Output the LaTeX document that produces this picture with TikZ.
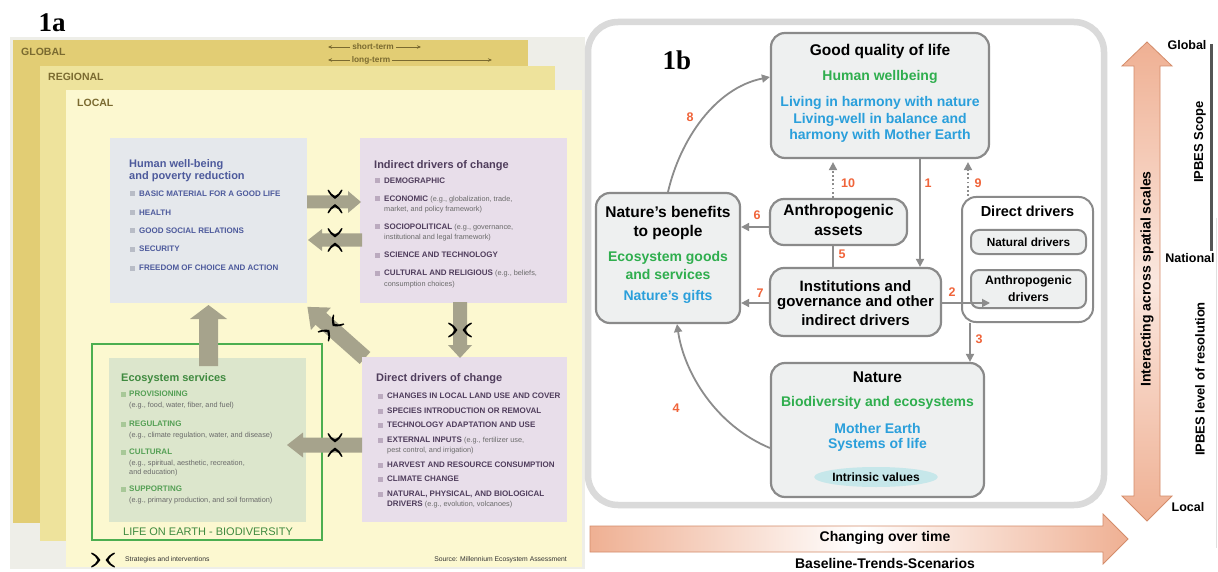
\documentclass[tikz,border=0pt]{standalone}
\usepackage{fontspec}
\setmainfont{Liberation Sans}
\newfontfamily\labfont{Liberation Serif}
\usetikzlibrary{arrows.meta,shapes.geometric}
\definecolor{bggray}{HTML}{EEEEE8}
\definecolor{globc}{HTML}{E2CD74}
\definecolor{regc}{HTML}{EEE39C}
\definecolor{locc}{HTML}{FCF8D0}
\definecolor{hwfill}{HTML}{E5E8EC}
\definecolor{lavfill}{HTML}{E8DEEA}
\definecolor{ecofill}{HTML}{DCE6CC}
\definecolor{greenframe}{HTML}{4CAE50}
\definecolor{fatc}{HTML}{A6A38C}
\definecolor{hwtext}{HTML}{4D5A9C}
\definecolor{purtext}{HTML}{4F3D5C}
\definecolor{ecotext}{HTML}{3F8A3F}
\definecolor{ecoitem}{HTML}{55A055}
\definecolor{subgray}{HTML}{6A6A6A}
\definecolor{scaletext}{HTML}{7A6A30}
\definecolor{bulhw}{HTML}{B8BCC6}
\definecolor{bulpur}{HTML}{BBAABF}
\definecolor{buleco}{HTML}{A8C898}
\definecolor{framegray}{HTML}{DADADA}
\definecolor{boxedge}{HTML}{8A8A8A}
\definecolor{boxfill}{HTML}{EEF0F0}
\definecolor{tgreen}{HTML}{2FAE4E}
\definecolor{tblue}{HTML}{2A9FDB}
\definecolor{numc}{HTML}{F0643A}
\definecolor{arrc}{HTML}{8C8C8C}
\definecolor{salmon}{HTML}{EFB093}
\definecolor{salmonedge}{HTML}{D48C6A}
\definecolor{ellc}{HTML}{C6E7EA}
\definecolor{bardark}{HTML}{555555}
\newcommand\fsz[1]{\fontsize{#1}{#1}\selectfont}
\newcommand\fatarrow[7]{\begin{scope}[shift={(#1,#2)},rotate=#3]
\fill[fatc] (0,-#5) -- ({#4-#7},-#5) -- ({#4-#7},-#6) -- (#4,0) -- ({#4-#7},#6) -- ({#4-#7},#5) -- (0,#5) -- cycle;
\end{scope}}
\newcommand\pinch[3]{\begin{scope}[shift={(#1,#2)},rotate=#3]
\fill[black] (-11.5,-7.5) .. controls (-8,-6.5) and (-5,-3.5) .. (-2.6,0) .. controls (-5,3.5) and (-8,6.5) .. (-11.5,7.5)
 -- (-11.8,6.3) .. controls (-8.8,5) and (-6.8,2.5) .. (-5.4,0) .. controls (-6.8,-2.5) and (-8.8,-5) .. (-11.8,-6.3) -- cycle;
\fill[black] (11.5,-7.5) .. controls (8,-6.5) and (5,-3.5) .. (2.6,0) .. controls (5,3.5) and (8,6.5) .. (11.5,7.5)
 -- (11.8,6.3) .. controls (8.8,5) and (6.8,2.5) .. (5.4,0) .. controls (6.8,-2.5) and (8.8,-5) .. (11.8,-6.3) -- cycle;
\end{scope}}
\newcommand\bul[3]{\fill[#3] ({#1-2.5},{#2-2.5}) rectangle ({#1+2.5},{#2+2.5});}
\tikzset{
 itm/.style={anchor=west, inner sep=0pt, text height=5.8pt, text depth=0pt, font=\bfseries\fsz{8}},
 sub/.style={anchor=west, inner sep=0pt, text height=5.3pt, text depth=0pt, font=\fsz{7.3}, text=subgray},
 scl/.style={anchor=west, inner sep=0pt, font=\bfseries\fsz{10.5}, text=scaletext},
 t/.style={inner sep=0pt, font=\bfseries\fsz{#1}},
 box/.style={draw=boxedge, line width=2.2pt, fill=boxfill, rounded corners=14pt, inner sep=0pt},
 conn/.style={draw=arrc, line width=1.8pt, -{Triangle[length=8pt,width=8pt]}},
 dconn/.style={conn, dash pattern=on 1.8pt off 2.4pt, shorten >=3pt},
 num/.style={inner sep=0pt, text=numc, font=\bfseries\fsz{12.5}},
 sarr/.style={draw=scaletext, line width=0.7pt, -{Stealth[length=4pt,width=3.5pt]}},
}
\begin{document}
\begin{tikzpicture}[x=1pt,y=-1pt]
\useasboundingbox (0,0) rectangle (1218,572);
\fill[white] (0,0) rectangle (1218,572);
% ================= 1a =================
\node[anchor=base, inner sep=0pt, font=\labfont\bfseries\fsz{27}] (la) at (52,32) {1a};
\fill[bggray] (10,37) rectangle (585,569);
\fill[globc] (13,40) rectangle (528,523);
\fill[regc] (40,66) rectangle (555,541);
\fill[locc] (66,90) rectangle (582,567);
\node[scl] (glob) at (21,52) {GLOBAL};
\node[scl] (regi) at (48,77) {REGIONAL};
\node[scl] (loca) at (77,103) {LOCAL};
\node[inner sep=0pt, font=\bfseries\fsz{8.3}, text=scaletext] (st) at (373,47) {short-term};
\node[inner sep=0pt, font=\bfseries\fsz{8.3}, text=scaletext] (lt) at (371,60) {long-term};
\draw[sarr] ([xshift=-2pt]st.west) -- (st.west -| 328,0);
\draw[sarr] ([xshift=2pt]st.east) -- (st.east -| 421,0);
\draw[sarr] ([xshift=-2pt]lt.west) -- (lt.west -| 328,0);
\draw[sarr] ([xshift=2pt]lt.east) -- (lt.east -| 492,0);
% boxes
\node[fill=hwfill, minimum width=197, minimum height=165, inner sep=0pt] (hw) at (208.5,220.5) {};
\node[fill=lavfill, minimum width=207, minimum height=165, inner sep=0pt] (ind) at (463.5,220.5) {};
\node[draw=greenframe, line width=1.8pt, minimum width=230, minimum height=196, inner sep=0pt] (life) at (207,442) {};
\node[fill=ecofill, minimum width=197, minimum height=164, inner sep=0pt] (eco) at (207.5,440) {};
% diagonal arrow (behind direct box)
\fatarrow{365}{358}{138.4}{77}{8}{15}{18}
\node[fill=lavfill, minimum width=205, minimum height=165, inner sep=0pt] (dir) at (464.5,439.5) {};
% fat arrows
\fatarrow{307}{202}{0}{54}{6.5}{11}{13}
\fatarrow{362}{240}{180}{54}{6.5}{11}{14}
\fatarrow{460}{302}{270}{56}{7}{12}{13}
\fatarrow{208.5}{366}{90}{61}{9.5}{18.5}{14}
\fatarrow{362}{445}{180}{75}{7.5}{12.5}{16}
% strategies symbols
\pinch{335}{201.5}{90}
\pinch{335}{240}{90}
\pinch{460}{330}{0}
\pinch{331}{328}{48}
\pinch{335}{445}{90}
\pinch{103}{560}{0}
% Human well-being
\node[anchor=west, inner sep=0pt, font=\bfseries\fsz{11}, text=hwtext] at (129,165) {Human well-being};
\node[anchor=west, inner sep=0pt, font=\bfseries\fsz{11}, text=hwtext] at (129,177) {and poverty reduction};
\bul{132}{194}{bulhw}\node[itm, text=hwtext] at (139,194) {BASIC MATERIAL FOR A GOOD LIFE};
\bul{132}{213}{bulhw}\node[itm, text=hwtext] at (139,213) {HEALTH};
\bul{132}{231}{bulhw}\node[itm, text=hwtext] at (139,231) {GOOD SOCIAL RELATIONS};
\bul{132}{249}{bulhw}\node[itm, text=hwtext] at (139,249) {SECURITY};
\bul{132}{268}{bulhw}\node[itm, text=hwtext] at (139,268) {FREEDOM OF CHOICE AND ACTION};
% Indirect drivers
\node[anchor=west, inner sep=0pt, font=\bfseries\fsz{11}, text=purtext] at (374,166) {Indirect drivers of change};
\bul{377}{181}{bulpur}\node[itm, text=purtext] at (384,181) {DEMOGRAPHIC};
\bul{377}{199}{bulpur}\node[itm, text=purtext] at (384,199) {ECONOMIC {\mdseries\fsz{7.3}\color{subgray}(e.g., globalization, trade,}};
\node[sub] at (384,209) {market, and policy framework)};
\bul{377}{227}{bulpur}\node[itm, text=purtext] at (384,227) {SOCIOPOLITICAL {\mdseries\fsz{7.3}\color{subgray}(e.g., governance,}};
\node[sub] at (384,237) {institutional and legal framework)};
\bul{377}{255}{bulpur}\node[itm, text=purtext] at (384,255) {SCIENCE AND TECHNOLOGY};
\bul{377}{273}{bulpur}\node[itm, text=purtext] at (384,273) {CULTURAL AND RELIGIOUS {\mdseries\fsz{7.3}\color{subgray}(e.g., beliefs,}};
\node[sub] at (384,284) {consumption choices)};
% Direct drivers
\node[anchor=west, inner sep=0pt, font=\bfseries\fsz{11}, text=purtext] at (376,379) {Direct drivers of change};
\bul{380}{396}{bulpur}\node[itm, text=purtext] at (387,396) {CHANGES IN LOCAL LAND USE AND COVER};
\bul{380}{411}{bulpur}\node[itm, text=purtext] at (387,411) {SPECIES INTRODUCTION OR REMOVAL};
\bul{380}{425}{bulpur}\node[itm, text=purtext] at (387,425) {TECHNOLOGY ADAPTATION AND USE};
\bul{380}{440}{bulpur}\node[itm, text=purtext] at (387,440) {EXTERNAL INPUTS {\mdseries\fsz{7.3}\color{subgray}(e.g., fertilizer use,}};
\node[sub] at (387,450) {pest control, and irrigation)};
\bul{380}{465}{bulpur}\node[itm, text=purtext] at (387,465) {HARVEST AND RESOURCE CONSUMPTION};
\bul{380}{479}{bulpur}\node[itm, text=purtext] at (387,479) {CLIMATE CHANGE};
\bul{380}{494}{bulpur}\node[itm, text=purtext] at (387,494) {NATURAL, PHYSICAL, AND BIOLOGICAL};
\node[itm, text=purtext] at (387,504) {DRIVERS {\mdseries\fsz{7.3}\color{subgray}(e.g., evolution, volcanoes)}};
% Ecosystem services
\node[anchor=west, inner sep=0pt, font=\bfseries\fsz{11}, text=ecotext] at (121,379) {Ecosystem services};
\bul{123}{394}{buleco}\node[itm, text=ecoitem] at (129,394) {PROVISIONING};
\node[sub] at (129,405) {(e.g., food, water, fiber, and fuel)};
\bul{123}{424}{buleco}\node[itm, text=ecoitem] at (129,424) {REGULATING};
\node[sub] at (129,435) {(e.g., climate regulation, water, and disease)};
\bul{123}{452}{buleco}\node[itm, text=ecoitem] at (129,452) {CULTURAL};
\node[sub] at (129,463) {(e.g., spiritual, aesthetic, recreation,};
\node[sub] at (129,472) {and education)};
\bul{123}{489}{buleco}\node[itm, text=ecoitem] at (129,489) {SUPPORTING};
\node[sub] at (129,500) {(e.g., primary production, and soil formation)};
\node[inner sep=0pt, font=\fsz{11}, text=ecotext] at (208,532) {LIFE ON EARTH - BIODIVERSITY};
\node[anchor=west, inner sep=0pt, font=\fsz{6.8}, text=black!80] at (125,560) {Strategies and interventions};
\node[anchor=east, inner sep=0pt, font=\fsz{6.8}, text=black!80] at (567,560) {Source: Millennium Ecosystem Assessment};
% ================= 1b =================
\draw[framegray, line width=6.5pt, rounded corners=30pt] (588,22) rectangle (1104,505);
\node[anchor=base, inner sep=0pt, font=\labfont\bfseries\fsz{27}] (lb) at (677,70) {1b};
\node[box, minimum width=218, minimum height=125] (gql) at (880,95.5) {};
\node[box, minimum width=144, minimum height=130] (nb) at (668,258) {};
\node[box, minimum width=137, minimum height=46] (assets) at (838.5,222) {};
\node[box, minimum width=171, minimum height=68] (inst) at (855.5,302) {};
\node[box, fill=white, line width=2pt, minimum width=131, minimum height=125] (dd) at (1027.5,259.5) {};
\node[box, line width=2pt, rounded corners=8pt, minimum width=115, minimum height=24] (natd) at (1028.5,242) {};
\node[box, line width=2pt, rounded corners=8pt, minimum width=115, minimum height=38] (anth) at (1028.5,289) {};
\node[box, minimum width=213, minimum height=134] (nature) at (877.5,430) {};
\node[ellipse, fill=ellc, minimum width=123, minimum height=20, inner sep=0pt, font=\bfseries\fsz{12}] (iv) at (876,477) {Intrinsic values};
% texts
\node[t=15.5] at (880,51) {Good quality of life};
\node[t=14, text=tgreen] at (880,77) {Human wellbeing};
\node[t=14, text=tblue] at (880,103) {Living in harmony with nature};
\node[t=14, text=tblue] at (880,119.5) {Living-well in balance and};
\node[t=14, text=tblue] at (880,136) {harmony with Mother Earth};
\node[t=15.5] at (668,212) {Nature’s benefits};
\node[t=15.5] at (668,232) {to people};
\node[t=14, text=tgreen] at (668,258) {Ecosystem goods};
\node[t=14, text=tgreen] at (668,274) {and services};
\node[t=14, text=tblue] at (668,297) {Nature’s gifts};
\node[t=15.5] at (838.5,212) {Anthropogenic};
\node[t=15.5] at (838.5,231) {assets};
\node[t=15] at (855.5,286) {Institutions and};
\node[t=15] at (855.5,303) {governance and other};
\node[t=15] at (855.5,320) {indirect drivers};
\node[t=14.5] at (1027.5,211) {Direct drivers};
\node[t=11.8] at (1028.5,242) {Natural drivers};
\node[t=12.2] at (1028.5,281) {Anthropogenic};
\node[t=12.2] at (1028.5,297) {drivers};
\node[t=15.5] at (877.5,377) {Nature};
\node[t=14, text=tgreen] at (877.5,403) {Biodiversity and ecosystems};
\node[t=14, text=tblue] at (877.5,428) {Mother Earth};
\node[t=14, text=tblue] at (877.5,445) {Systems of life};
% connectors
\coordinate (e2) at (990,303);
\draw[conn] (gql.south -| 920,0) -- (inst.north -| 920,0);
\draw[conn] (inst.east |- e2) -- (e2);
\draw[conn] (dd.south -| 970,0) -- (nature.north -| 970,0);
\draw[conn] (nature.west |- 0,448) .. controls (715,425) and (684,372) .. (nb.south -| 677,0);
\draw[draw=arrc, line width=1.8pt] (assets.south -| 833,0) -- (inst.north -| 833,0);
\draw[conn] (assets.west |- 0,227) -- (nb.east |- 0,227);
\draw[conn] (inst.west |- 0,303) -- (nb.east |- 0,303);
\draw[conn] (nb.north -| 668,0) .. controls (680,140) and (715,88) .. (gql.west |- 0,77);
\draw[dconn] (dd.north -| 968,0) -- (gql.south -| 968,0);
\draw[dconn] (assets.north -| 833,0) -- (gql.south -| 833,0);
\node[num] at (928,183) {1};
\node[num] at (952,292) {2};
\node[num] at (979,339) {3};
\node[num] at (676,408) {4};
\node[num] at (842,254) {5};
\node[num] at (757,215) {6};
\node[num] at (760,293) {7};
\node[num] at (690,117) {8};
\node[num] at (978,183) {9};
\node[num] at (848,183) {10};
% scales
\shadedraw[draw=salmonedge, line width=0.8pt, top color=salmon, bottom color=salmon, middle color=salmon!30] (1147,42) -- (1172,66) -- (1160,66) -- (1160,496) -- (1172,496) -- (1147,521) -- (1122,496) -- (1134,496) -- (1134,66) -- (1122,66) -- cycle;
\node[t=14, rotate=90] (ias) at (1147,279) {Interacting across spatial scales};
\shadedraw[draw=salmonedge, line width=0.8pt, left color=salmon, right color=salmon, middle color=white] (590,526) -- (1103,526) -- (1103,514) -- (1128,539) -- (1103,564) -- (1103,552) -- (590,552) -- cycle;
\node[t=14] (cot) at (885,538) {Changing over time};
\node[t=14] (bts) at (885,563) {Baseline-Trends-Scenarios};
\node[t=12.5] (glo) at (1187,45) {Global};
\node[t=12.5] (nat) at (1190,258) {National};
\node[t=12.5] (loc) at (1188,507) {Local};
\draw[bardark, line width=3pt] (1211,44) -- (1211,251);
\draw[black!12, line width=1pt] (1216,218) -- (1216,548);
\node[t=13, rotate=90] (sco) at (1200,142) {IPBES Scope};
\node[t=13, rotate=90] (res) at (1200,379) {IPBES level of resolution};
\end{tikzpicture}
\end{document}
